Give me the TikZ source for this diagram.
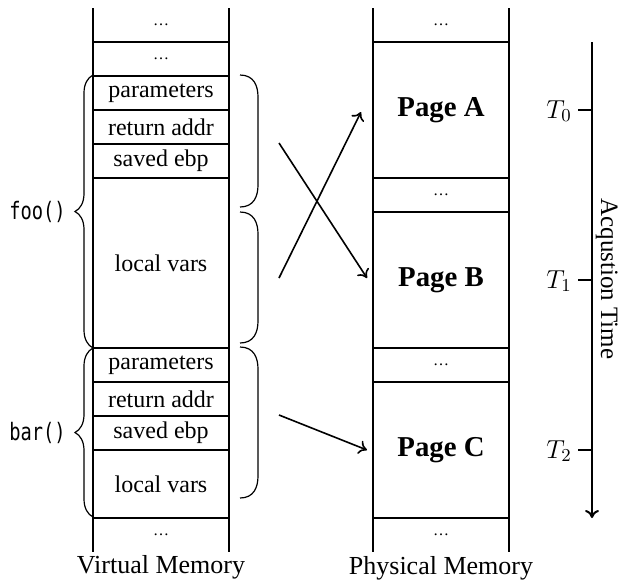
\documentclass[tikz,border=0pt]{standalone}
\usepackage{fix-cm}
\usepackage{fontspec}
\setmainfont{Liberation Serif}
\newfontfamily\codefont{DejaVu Sans Mono}
\usetikzlibrary{decorations.pathreplacing,arrows.meta}
\begin{document}
\begin{tikzpicture}[x=0.5pt,y=-0.5pt,
  colline/.style={line width=1pt},
  cell/.style={draw, line width=1pt, minimum width=68pt, minimum height=17pt, inner sep=0pt,
    font=\fontsize{12}{14}\selectfont},
  dotcell/.style={cell, font=\fontsize{8}{10}\selectfont},
  opencell/.style={inner sep=0pt, font=\fontsize{8}{10}\selectfont},
  pagecell/.style={cell, minimum height=68pt, font=\fontsize{14.4}{17}\selectfont\bfseries},
  lbrace/.style={decorate, decoration={brace, amplitude=9pt}, line width=0.6pt},
  rbrack/.style={line width=0.6pt},
  link/.style={-{To[length=4pt,width=7pt]}, line width=0.8pt},
  timeaxis/.style={-{To[length=4pt,width=7pt]}, line width=1pt},
  tick/.style={line width=1pt},
  tlabel/.style={anchor=base east, inner sep=0pt, font=\fontsize{13}{15}\selectfont},
  caption/.style={anchor=base, inner sep=0pt, font=\fontsize{13}{15}\selectfont},
  code/.style={anchor=east, inner sep=0pt, font=\codefont\fontsize{12}{14}\selectfont, xscale=0.78}
]
\useasboundingbox (0,0) rectangle (619,585);

% column lines
\draw[colline] (93,8) -- (93,552);
\draw[colline] (229,8) -- (229,552);
\draw[colline] (373,8) -- (373,552);
\draw[colline] (509,8) -- (509,552);

% virtual memory cells
\node[opencell] (v1) at (161,25) {…};
\node[dotcell] (v2) at (161,59) {…};
\node[cell] (fp) at (161,93) {parameters};
\node[cell] (fr) at (161,127) {return addr};
\node[cell] (fs) at (161,161) {saved ebp};
\node[cell, minimum height=85pt] (fl) at (161,263) {local vars};
\node[cell] (bp) at (161,365) {parameters};
\node[cell] (br) at (161,399) {return addr};
\node[cell] (bs) at (161,433) {saved ebp};
\node[cell, minimum height=34pt] (bl) at (161,484) {local vars};
\node[opencell] (v3) at (161,535) {…};

% physical memory cells
\node[opencell] (u1) at (441,25) {…};
\node[pagecell] (pA) at (441,110) {Page A};
\node[dotcell] (u2) at (441,195) {…};
\node[pagecell] (pB) at (441,280) {Page B};
\node[dotcell] (u3) at (441,365) {…};
\node[pagecell] (pC) at (441,450) {Page C};
\node[opencell] (u4) at (441,535) {…};

% left braces
\draw[lbrace] (93,348) -- (93,75);
\draw[lbrace] (93,517) -- (93,348);
\node[code] (foo) at (66,212) {foo()};
\node[code] (bar) at (66,433) {bar()};

% right brackets
\draw[rbrack] (240,75) .. controls (254,75) and (258,86) .. (258,97) -- (258,185)
  .. controls (258,196) and (254,207) .. (240,207);
\draw[rbrack] (240,212) .. controls (254,212) and (258,223) .. (258,234) -- (258,321)
  .. controls (258,332) and (254,343) .. (240,343);
\draw[rbrack] (240,347) .. controls (254,347) and (258,358) .. (258,369) -- (258,476)
  .. controls (258,487) and (254,498) .. (240,498);

% arrows
\coordinate (s1) at (279,143);
\coordinate (s2) at (279,278);
\coordinate (s3) at (279,415);
\draw[link] (s1) -- ([shift={(-5,-2)}]pB.west);
\draw[link] (s2) -- ([shift={(-11,2)}]pA.west);
\draw[link] (s3) -- ([shift={(-5,0)}]pC.west);

% time axis
\coordinate (ta) at (592,42);
\coordinate (tb) at (592,518);
\draw[timeaxis] (ta) -- (tb);
\coordinate (k0) at (578,110);
\coordinate (k1) at (578,280);
\coordinate (k2) at (578,450);
\draw[tick] (k0) -- (592,110);
\draw[tick] (k1) -- (592,280);
\draw[tick] (k2) -- (592,450);
\node[tlabel] (T0) at (572,118) {$T_0$};
\node[tlabel] (T1) at (572,288) {$T_1$};
\node[tlabel] (T2) at (572,458) {$T_2$};
\node[rotate=-90, anchor=base, inner sep=0pt, font=\fontsize{12.5}{15}\selectfont] (acq) at (601,279) {Acqustion Time};

% captions
\node[caption] (vm) at (161,573) {Virtual Memory};
\node[caption] (pm) at (441,574) {Physical Memory};
\end{tikzpicture}
\end{document}
